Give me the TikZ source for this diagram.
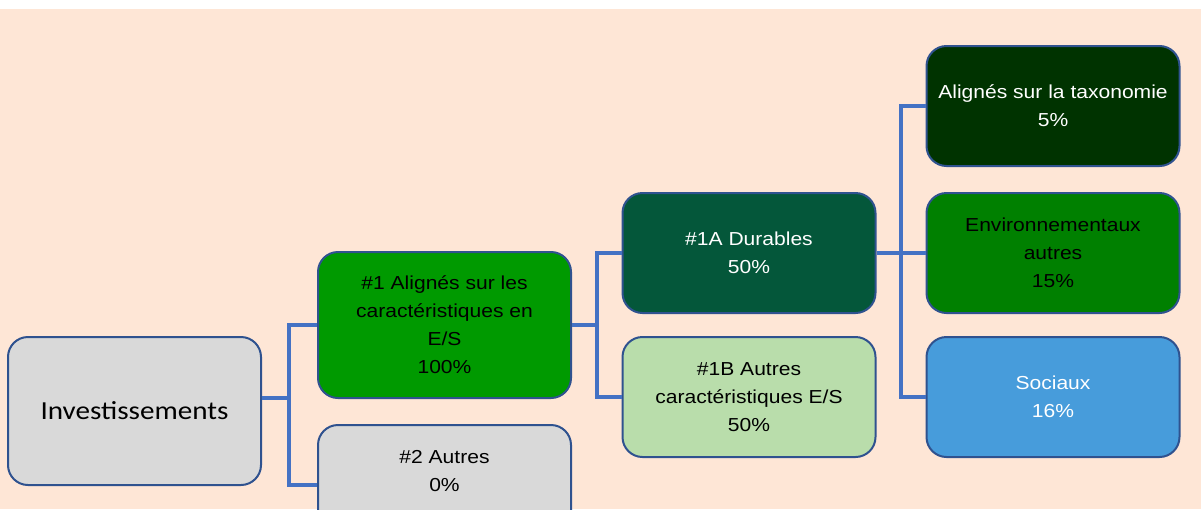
\documentclass[tikz,border=0pt]{standalone}
\usepackage{fontspec}
\usepackage{tikz}
\newfontfamily\boxfont[FakeStretch=1.12]{Liberation Sans}
\newfontfamily\rootfont[FakeStretch=1.12]{Carlito}
\definecolor{peach}{HTML}{FEE6D6}
\definecolor{edgeblue}{HTML}{2F528F}
\definecolor{linkblue}{HTML}{4472C4}
\definecolor{greyfill}{HTML}{D9D9D9}
\definecolor{esgreen}{HTML}{009A00}
\definecolor{durgreen}{HTML}{04573A}
\definecolor{othgreen}{HTML}{B9DDAB}
\definecolor{taxgreen}{HTML}{003300}
\definecolor{envgreen}{HTML}{008000}
\definecolor{socblue}{HTML}{479CDB}

\begin{document}
\begin{tikzpicture}[x=1pt,y=-1pt,
    bnode/.style={draw=edgeblue,line width=2pt,rounded corners=20pt,minimum width=253pt,minimum height=120pt,align=center,inner sep=0pt,font=\boxfont\fontsize{18.8}{28}\selectfont},
    link/.style={draw=linkblue,line width=3.6pt}]
    \useasboundingbox (0,0) rectangle (1201,509);
    \clip (0,0) rectangle (1201,509);
    \fill[peach] (0,9) rectangle (1201,509);

    \node[bnode,fill=greyfill,minimum height=148pt,font=\rootfont\fontsize{26}{30}\selectfont] (inv) at (134.5,411) {Investissements};
    \node[bnode,fill=esgreen,minimum height=146pt] (s1) at (444.5,325) {\#1 Alignés sur les\\caractéristiques en\\E/S\\100\%};
    \node[bnode,fill=greyfill] (s2) at (444.5,485) {\#2 Autres\\0\%\\\mbox{}};
    \node[bnode,fill=durgreen,text=white] (d1a) at (749,253) {\#1A Durables\\50\%};
    \node[bnode,fill=othgreen] (d1b) at (749,397) {\#1B Autres\\caractéristiques E/S\\50\%};
    \node[bnode,fill=taxgreen,text=white] (tax) at (1053,106) {Alignés sur la taxonomie\\5\%};
    \node[bnode,fill=envgreen] (env) at (1053,253) {Environnementaux\\autres\\15\%};
    \node[bnode,fill=socblue,text=white] (soc) at (1053,397) {Sociaux\\16\%};

    \coordinate (j1) at (289,398);
    \coordinate (j2) at (597,325);
    \coordinate (j3) at (901,253);

    \draw[link] (inv.east |- j1) -- (j1);
    \draw[link] (s1.west) -| (j1) |- (s2.west);
    \draw[link] (s1.east |- j2) -- (j2);
    \draw[link] (d1a.west) -| (j2) |- (d1b.west);
    \draw[link] (d1a.east) -- (env.west);
    \draw[link] (tax.west) -| (j3) |- (soc.west);
\end{tikzpicture}
\end{document}
